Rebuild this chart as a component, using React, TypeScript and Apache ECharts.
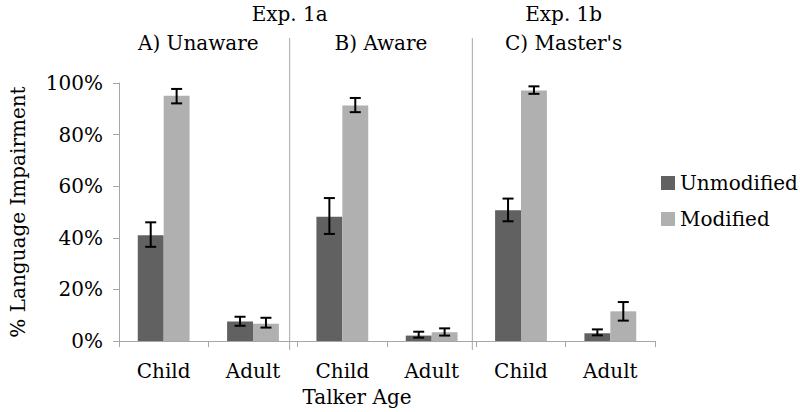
import React, { useEffect, useRef } from "react";
import * as echarts from "echarts";

const categories = ["Child", "Adult", "Child", "Adult", "Child", "Adult"];
const unmodified = [41, 7.6, 48.2, 2.1, 50.7, 3.0];
const modified = [95.1, 6.7, 91.3, 3.4, 97.1, 11.5];
const unmodLow = [36.5, 5.9, 41.5, 1.3, 46.4, 2.2];
const unmodHigh = [46, 9.4, 55.4, 3.6, 55.2, 4.5];
const modLow = [92.1, 5.2, 88.7, 2.1, 95.8, 7.9];
const modHigh = [97.7, 9.0, 94.2, 4.9, 98.7, 15.1];
const panelTitles = ["A) Unaware", "B) Aware", "C) Master's"];
const expTitles = ["Exp. 1a", "Exp. 1b"];

const FONT = "DejaVu Serif";
const FS = 20;
const GRID_LEFT = 107;
const GRID_RIGHT = 145;
const GRID_TOP = 83;
const GRID_BOTTOM = 71;
const W = 800;
const BAR_FRAC = 0.58;

function errorSeries(name: string, low: number[], high: number[], side: number) {
  return {
    type: "custom",
    name: name + "-err",
    z: 10,
    silent: true,
    encode: { x: 0, y: [1, 2] },
    data: low.map((l, i) => [i, l, high[i]]),
    renderItem: (params: any, api: any) => {
      const idx = api.value(0);
      const catW = api.size([1, 0])[0];
      const bw = (catW * BAR_FRAC) / 2;
      const lowP = api.coord([idx, api.value(1)]);
      const highP = api.coord([idx, api.value(2)]);
      const x = lowP[0] + side * bw / 2;
      const cap = 5.5;
      const style = { stroke: "#000", lineWidth: 2 };
      return {
        type: "group",
        children: [
          { type: "line", shape: { x1: x, y1: lowP[1], x2: x, y2: highP[1] }, style },
          { type: "line", shape: { x1: x - cap, y1: lowP[1], x2: x + cap, y2: lowP[1] }, style },
          { type: "line", shape: { x1: x - cap, y1: highP[1], x2: x + cap, y2: highP[1] }, style },
        ],
      };
    },
  };
}

export default function App() {
  const ref = useRef<HTMLDivElement>(null);
  useEffect(() => {
    if (!ref.current) return;
    const chart = echarts.init(ref.current, undefined, { renderer: "svg" });
    const plotW = W - GRID_LEFT - GRID_RIGHT;
    const sep1 = GRID_LEFT + plotW / 3;
    const sep2 = GRID_LEFT + (2 * plotW) / 3;
    const centers = [0, 1, 2].map((k) => GRID_LEFT + (plotW * (k + 0.5)) / 3);
    const txt = (text: string, x: number, y: number) => ({
      type: "text",
      x,
      y,
      style: {
        text,
        fill: "#000",
        fontSize: FS,
        fontFamily: FONT,
        align: "center",
        verticalAlign: "middle",
      },
    });
    chart.setOption({
      animation: false,
      grid: { left: GRID_LEFT, right: GRID_RIGHT, top: GRID_TOP, bottom: GRID_BOTTOM },
      legend: {
        orient: "vertical",
        left: 656,
        top: 168,
        itemWidth: 14,
        itemHeight: 14,
        itemGap: 16,
        icon: "rect",
        data: ["Unmodified", "Modified"],
        textStyle: { fontSize: FS, color: "#000", fontFamily: FONT },
      },
      xAxis: {
        type: "category",
        data: categories,
        axisLine: { lineStyle: { color: "#a6a6a6", width: 1 } },
        axisTick: { show: true, length: 6, lineStyle: { color: "#a6a6a6" } },
        axisLabel: { fontSize: FS, color: "#000", fontFamily: FONT, margin: 20, interval: 0 },
      },
      yAxis: {
        type: "value",
        min: 0,
        max: 100,
        interval: 20,
        name: "% Language Impairment",
        nameLocation: "middle",
        nameRotate: 90,
        nameGap: 91,
        nameTextStyle: { fontSize: FS, color: "#000", fontFamily: FONT },
        axisLine: { show: true, lineStyle: { color: "#a6a6a6", width: 1 } },
        axisTick: { show: true, length: 6, lineStyle: { color: "#a6a6a6" } },
        splitLine: { show: false },
        axisLabel: { fontSize: FS, color: "#000", fontFamily: FONT, margin: 16, formatter: "{value}%" },
      },
      series: [
        {
          type: "bar",
          name: "Unmodified",
          data: unmodified,
          itemStyle: { color: "#616161" },
          barGap: "0%",
          barCategoryGap: `${Math.round((1 - BAR_FRAC) * 100)}%`,
        },
        {
          type: "bar",
          name: "Modified",
          data: modified,
          itemStyle: { color: "#b0b0b0" },
          barGap: "0%",
          barCategoryGap: `${Math.round((1 - BAR_FRAC) * 100)}%`,
        },
        errorSeries("Unmodified", unmodLow, unmodHigh, -1),
        errorSeries("Modified", modLow, modHigh, 1),
      ],
      graphic: [
        { type: "line", shape: { x1: sep1, y1: 38, x2: sep1, y2: 350 }, style: { stroke: "#a6a6a6", lineWidth: 1 } },
        { type: "line", shape: { x1: sep2, y1: 38, x2: sep2, y2: 350 }, style: { stroke: "#a6a6a6", lineWidth: 1 } },
        txt(expTitles[0], sep1, 14),
        txt(expTitles[1], centers[2], 14),
        txt(panelTitles[0], centers[0], 43),
        txt(panelTitles[1], centers[1], 43),
        txt(panelTitles[2], centers[2], 43),
        txt("Talker Age", 357, 397),
      ],
    });
    return () => chart.dispose();
  }, []);
  return <div ref={ref} style={{ width: 800, height: 412, position: "absolute", left: 0, top: 0 }} />;
}
